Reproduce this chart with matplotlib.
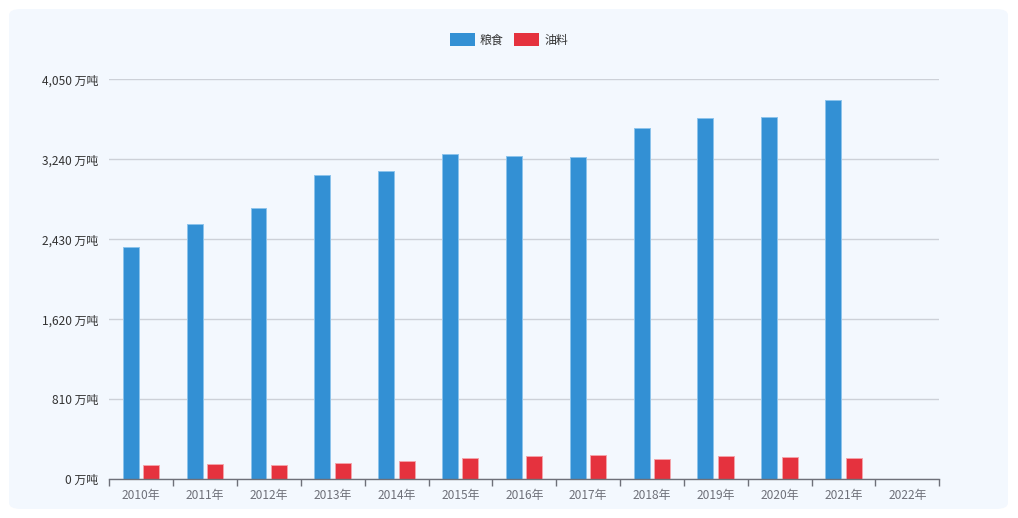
import numpy as np
import matplotlib.pyplot as plt
from matplotlib.patches import FancyBboxPatch
from matplotlib.ticker import FuncFormatter

plt.rcParams['font.family'] = ['Noto Sans CJK SC', 'DejaVu Sans']

years = ['2010年', '2011年', '2012年', '2013年', '2014年', '2015年', '2016年',
         '2017年', '2018年', '2019年', '2020年', '2021年', '2022年']
grain = [2349, 2580, 2745, 3078, 3119, 3297, 3270, 3260, 3557, 3655, 3669, 3844, np.nan]
oil = [142, 155, 145, 165, 186, 213, 233, 243, 206, 233, 223, 219, np.nan]
yticks = [0, 810, 1620, 2430, 3240, 4050]

W, H = 1018, 518
fig = plt.figure(figsize=(W / 100, H / 100), dpi=100, facecolor='white')

# panel background
panel = FancyBboxPatch((9 / W, 9 / H), 999 / W, 500 / H,
                       boxstyle='round,pad=0,rounding_size=0.012',
                       transform=fig.transFigure, facecolor='#f3f8fe',
                       edgecolor='none', zorder=-10)
fig.add_artist(panel)

ax = fig.add_axes([109.3 / W, (H - 479.3) / H, 830 / W, 400 / H])
ax.set_facecolor('none')
ax.set_zorder(5)

x = np.arange(len(years))
bw = 0.25
ax.bar(x - 0.163, grain, bw, color='#3390d4', edgecolor='#8cc4ec', linewidth=0.7, zorder=3)
ax.bar(x + 0.157, oil, bw, color='#e5323e', edgecolor='#f4a3aa', linewidth=0.7, zorder=3)

ax.set_xlim(-0.5, len(years) - 0.5)
ax.set_ylim(0, 4050)
ax.set_yticks(yticks)
ax.yaxis.set_major_formatter(FuncFormatter(lambda v, p: f'{int(v):,} 万吨'))
ax.grid(axis='y', color='#cdd1d8', linewidth=1, zorder=1)
ax.tick_params(axis='y', length=0, pad=8, labelsize=8.6, labelcolor='#333333')

ax.set_xticks(x)
ax.set_xticklabels(years)
ax.set_xticks(np.arange(len(years) + 1) - 0.5, minor=True)
ax.tick_params(axis='x', which='major', length=0, pad=7, labelsize=8.6, labelcolor='#6e7079')
ax.tick_params(axis='x', which='minor', length=5, color='#6e7079', width=1)

for s in ['top', 'right', 'left']:
    ax.spines[s].set_visible(False)
ax.spines['bottom'].set_color('#6e7079')
ax.spines['bottom'].set_linewidth(1)
ax.spines['bottom'].set_zorder(4)

ax.legend(['粮食', '油料'], loc='center', bbox_to_anchor=(0.5, 1 - 40 / H),
          bbox_transform=fig.transFigure,
          ncol=2, frameon=False, fontsize=8.6, handlelength=2.1, handleheight=1.2,
          handletextpad=0.4, columnspacing=0.9, labelcolor='#333333')
for h in ax.get_legend().legend_handles:
    h.set_edgecolor('none')

fig.savefig('out.png', dpi=100)
